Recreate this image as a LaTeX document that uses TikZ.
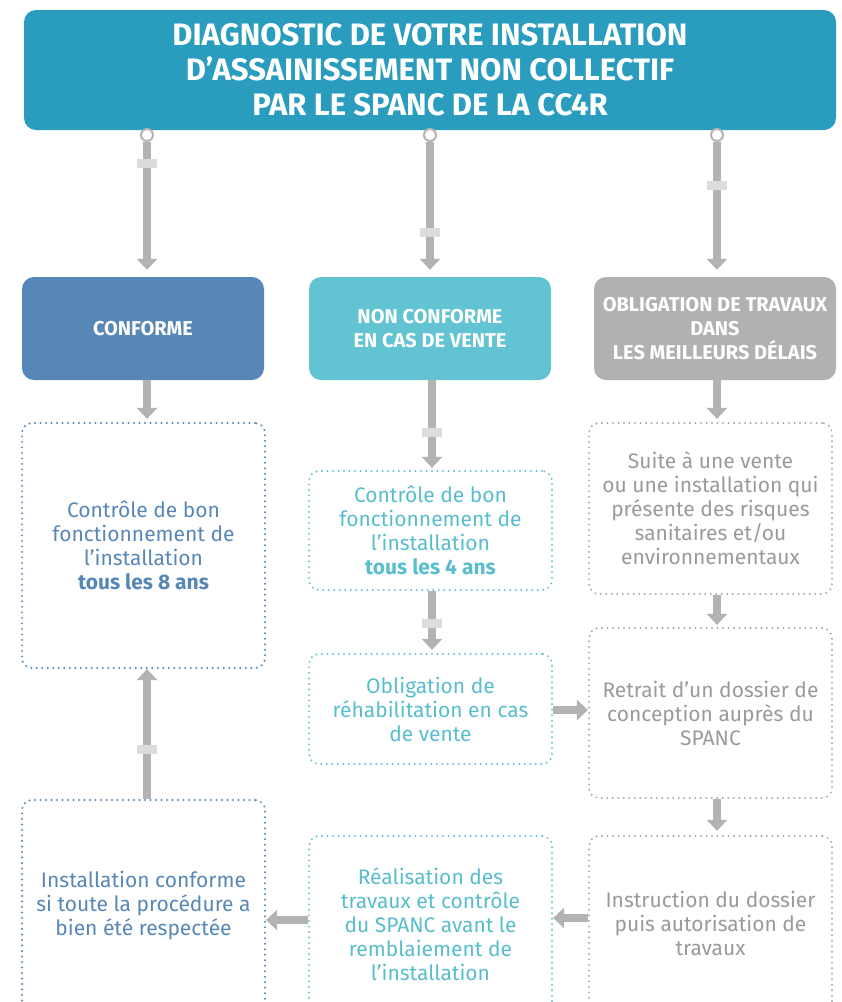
\documentclass[tikz,border=0pt]{standalone}
\usepackage{fontspec}
\setmainfont{Fira Sans}
\usetikzlibrary{arrows.meta}
\definecolor{titlec}{HTML}{2A9DBE}
\definecolor{bluec}{HTML}{5787B6}
\definecolor{tealc}{HTML}{62C4D2}
\definecolor{tealt}{HTML}{58BDCD}
\definecolor{grayc}{HTML}{B1B1B1}
\definecolor{grayt}{HTML}{9A9A9A}
\definecolor{grayd}{HTML}{A9A9A9}
\definecolor{arrc}{HTML}{B3B3B3}
\definecolor{bandc}{HTML}{DCDCDC}
\tikzset{
  solidbox/.style={rounded corners=12pt, inner sep=0pt, text=white, align=center,
    minimum width=242pt, minimum height=103pt, font=\bfseries\fontsize{20}{24}\selectfont},
  dotbox/.style={rounded corners=10pt, inner sep=0pt, align=center, line width=2.2pt,
    dash pattern=on 0pt off 5.5pt, line cap=round, minimum width=243pt,
    font=\fontsize{21}{24}\selectfont},
  bluebox/.style={dotbox, draw=bluec, text=bluec},
  tealbox/.style={dotbox, draw=tealc, text=tealt},
  graybox/.style={dotbox, draw=grayd, text=grayt},
  flow/.style={draw=arrc, line width=8pt, -{Triangle[width=20pt,length=11pt]}},
  ring/.style={circle, draw=arrc, fill=white, line width=2pt, minimum size=12pt, inner sep=0pt},
  bandmark/.style={fill=bandc, minimum width=20pt, minimum height=9pt, inner sep=0pt}
}
\begin{document}
\begin{tikzpicture}[x=1pt,y=-1pt]
\useasboundingbox (0,0) rectangle (842,1002);
\clip (0,0) rectangle (842,1002);
% title
\node[solidbox, fill=titlec, minimum width=812pt, minimum height=120pt,
  font=\bfseries\fontsize{31}{35}\selectfont] (title) at (430,70)
  {DIAGNOSTIC DE VOTRE INSTALLATION\\D’ASSAINISSEMENT NON COLLECTIF\\PAR LE SPANC DE LA CC4R};
% row 2
\node[solidbox, fill=bluec] (conf) at (143,328.5) {CONFORME};
\node[solidbox, fill=tealc] (nc) at (430,328.5) {NON CONFORME\\EN CAS DE VENTE};
\node[solidbox, fill=grayc] (ob) at (715,328.5) {OBLIGATION DE TRAVAUX\\DANS\\LES MEILLEURS DÉLAIS};
% row 3
\node[bluebox, minimum height=245pt] (l3) at (143.5,545.5)
  {Contrôle de bon\\fonctionnement de\\l’installation\\\textbf{tous les 8 ans}};
\node[tealbox, minimum height=119pt] (m3) at (430.5,530.5)
  {Contrôle de bon\\fonctionnement de\\l’installation\\\textbf{tous les 4 ans}};
\node[graybox, minimum height=171pt] (r3) at (710.5,508.5)
  {Suite à une vente\\ou une installation qui\\présente des risques\\sanitaires et/ou\\environnementaux};
% row 4
\node[tealbox, minimum height=110pt] (m4) at (430.5,709)
  {Obligation de\\réhabilitation en cas\\de vente};
\node[graybox, minimum height=170pt] (r4) at (710.5,713)
  {Retrait d’un dossier de\\conception auprès du\\SPANC};
% row 5
\node[bluebox, minimum height=286pt] (l5) at (143.5,943) {};
\node[bluebox, draw=none] (l5t) at (143.5,906)
  {Installation conforme\\si toute la procédure a\\bien été respectée};
\node[tealbox, minimum height=250pt] (m5) at (430.5,961) {};
\node[tealbox, draw=none] (m5t) at (430.5,924)
  {Réalisation des\\travaux et contrôle\\du SPANC avant le\\remblaiement de\\l’installation};
\node[graybox, minimum height=250pt] (r5) at (710.5,961) {};
\node[graybox, draw=none] (r5t) at (710.5,923)
  {Instruction du dossier\\puis autorisation de\\travaux};
% top connectors
\node[ring] (c1) at (147,135) {};
\node[ring] (c2) at (430,135) {};
\node[ring] (c3) at (717,135) {};
\draw[flow, shorten >=7pt] (c1.south) -- (c1 |- conf.north)
  node[bandmark, pos=0.16] (b1) {};
\draw[flow, shorten >=7pt] (c2.south) -- (c2 |- nc.north)
  node[bandmark, pos=0.67] (b2) {};
\draw[flow, shorten >=7pt] (c3.south) -- (c3 |- ob.north)
  node[bandmark, pos=0.32] (b3) {};
% row 2 -> row 3
\coordinate (xl) at (147,0);
\coordinate (xm) at (432,0);
\coordinate (xr) at (717,0);
\draw[flow, shorten >=3pt] (conf.south -| xl) -- (l3.north -| xl);
\draw[flow, shorten >=2pt] (nc.south -| xm) -- (m3.north -| xm)
  node[bandmark, pos=0.58] (b4) {};
\draw[flow, shorten >=3pt] (ob.south -| xr) -- (r3.north -| xr);
% row 3 -> row 4
\draw[flow, shorten >=3pt] (m3.south -| xm) -- (m4.north -| xm)
  node[bandmark, pos=0.52] (b5) {};
\draw[flow, shorten >=2pt] (r3.south -| xr) -- (r4.north -| xr);
\draw[flow] (m4.east |- 0,710) -- (r4.west |- 0,710);
% row 4 -> row 5
\draw[flow, shorten >=4pt] (r4.south -| xr) -- (r5.north -| xr);
\draw[flow] (r5.west |- 0,918) -- (m5.east |- 0,918);
\draw[flow] (m5.west |- 0,920) -- (l5.east |- 0,920);
\draw[flow] (l5.north -| xl) -- (l3.south -| xl)
  node[bandmark, pos=0.38] (b6) {};
\end{tikzpicture}
\end{document}
